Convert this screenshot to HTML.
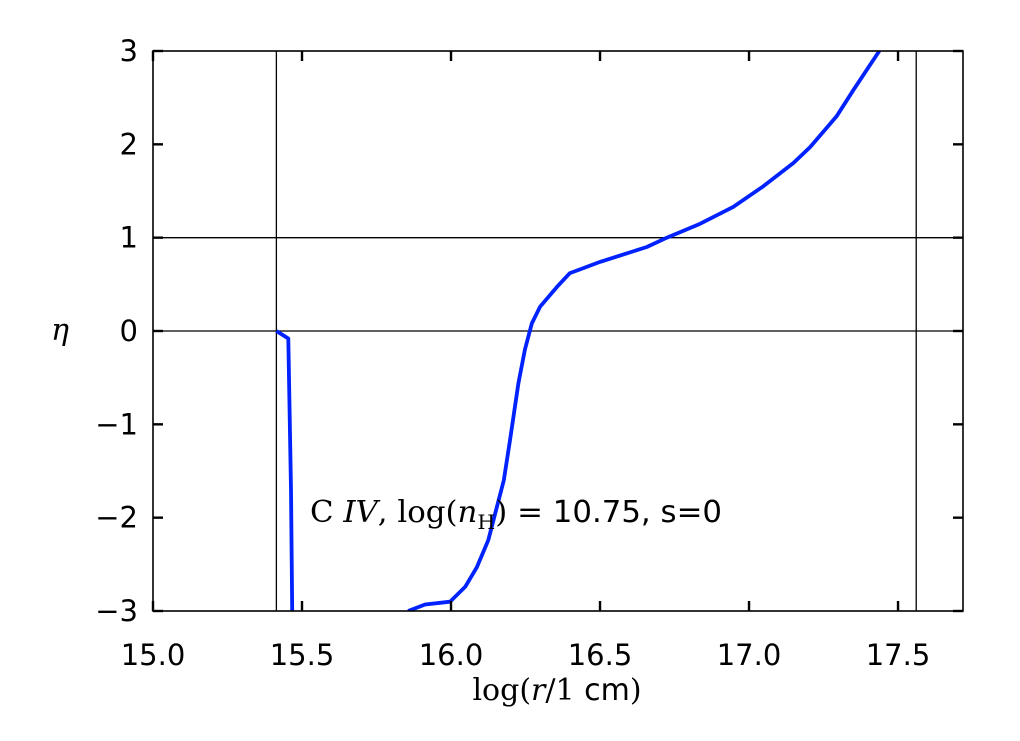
<!DOCTYPE html>
<html><head><meta charset="utf-8"><style>
body{margin:0;background:#fff}
svg text{font-family:"DejaVu Sans","Liberation Sans",sans-serif}
.serif{font-family:"DejaVu Serif","Liberation Serif",serif}
</style></head><body>
<svg id="chart" width="1020" height="736" viewBox="0 0 1020 736" xmlns="http://www.w3.org/2000/svg">
<defs><clipPath id="clip"><rect x="153" y="51" width="810" height="560"/></clipPath></defs>
<g id="grid"></g>
<g id="series" clip-path="url(#clip)"></g>
<rect x="153" y="51" width="810" height="560" fill="none" stroke="#000" stroke-width="1.6"/>
<g id="ticks"></g>
<text x="310" y="522" font-size="30" textLength="412" lengthAdjust="spacingAndGlyphs"><tspan class="serif">C </tspan><tspan class="serif" font-style="italic">IV</tspan><tspan class="serif">, log(</tspan><tspan class="serif" font-style="italic">n</tspan><tspan class="serif" font-size="20" dy="7">H</tspan><tspan class="serif" dy="-7">) = </tspan><tspan>10.75, s=0</tspan></text>
<text x="557" y="700" font-size="30" text-anchor="middle"><tspan class="serif">log(</tspan><tspan class="serif" font-style="italic">r</tspan><tspan class="serif">/1 </tspan><tspan>cm</tspan><tspan class="serif">)</tspan></text>
<text x="60" y="340" font-size="30" class="serif" font-style="italic" text-anchor="middle">η</text>
</svg>
<script>
const xTicks=[15.0,15.5,16.0,16.5,17.0,17.5];
const xTickLabels=["15.0","15.5","16.0","16.5","17.0","17.5"];
const yTicks=[-3,-2,-1,0,1,2,3];
const yTickLabels=["\u22123","\u22122","\u22121","0","1","2","3"];
const vLines=[15.414,17.561];
const hLines=[0,1];
const seg1X=[15.414,15.454,15.463,15.467];
const seg1Y=[0,-0.08,-1.70,-3.0];
const seg2X=[15.856,15.913,15.997,16.048,16.087,16.125,16.177,16.198,16.226,16.248,16.271,16.299,16.355,16.399,16.433,16.5,16.657,16.724,16.836,16.947,17.048,17.149,17.205,17.294,17.350,17.437];
const seg2Y=[-3.0,-2.93,-2.90,-2.74,-2.53,-2.24,-1.60,-1.17,-0.56,-0.20,0.08,0.26,0.47,0.62,0.66,0.74,0.90,1.0,1.15,1.33,1.55,1.80,1.97,2.30,2.58,3.0];
const X0=153,X1=963,Y0=611,Y1=51,xmin=15,xmax=17.718,ymin=-3,ymax=3;
const sx=v=>X0+(v-xmin)/(xmax-xmin)*(X1-X0);
const sy=v=>Y0-(v-ymin)/(ymax-ymin)*(Y0-Y1);
const NS="http://www.w3.org/2000/svg";
function mk(tag,attrs,parent){const e=document.createElementNS(NS,tag);for(const k in attrs)e.setAttribute(k,attrs[k]);parent.appendChild(e);return e;}
const grid=document.getElementById('grid'),ticks=document.getElementById('ticks'),series=document.getElementById('series');
vLines.forEach(v=>{const l=mk('line',{x1:sx(v),x2:sx(v),y1:Y1,y2:Y0,stroke:'#000','stroke-width':1.3},grid);

});
hLines.forEach(v=>{const l=mk('line',{x1:X0,x2:X1,y1:sy(v),y2:sy(v),stroke:'#000','stroke-width':1.3},grid);

});
xTicks.forEach((v,i)=>{const x=sx(v);
const a=mk('line',{x1:x,x2:x,y1:Y0,y2:Y0-10,stroke:'#000','stroke-width':2.4},ticks);


const b=mk('line',{x1:x,x2:x,y1:Y1,y2:Y1+10,stroke:'#000','stroke-width':2.4},ticks);


const t=mk('text',{x:x,y:665,'font-size':29,'text-anchor':'middle'},ticks);t.textContent=xTickLabels[i];

});
yTicks.forEach((v,i)=>{const y=sy(v);
const a=mk('line',{x1:X0,x2:X0+10,y1:y,y2:y,stroke:'#000','stroke-width':2.4},ticks);


const b=mk('line',{x1:X1,x2:X1-10,y1:y,y2:y,stroke:'#000','stroke-width':2.4},ticks);


const t=mk('text',{x:138,y:y+10,'font-size':29,'text-anchor':'end'},ticks);t.textContent=yTickLabels[i];

});
[[seg1X,seg1Y],[seg2X,seg2Y]].forEach(([xs,ys],k)=>{
const d=xs.map((v,i)=>(i?'L':'M')+sx(v).toFixed(1)+','+sy(ys[i]).toFixed(1)).join(' ');
const p=mk('path',{d:d,fill:'none',stroke:'#0022ff','stroke-width':3.8,'stroke-linejoin':'round'},series);

});
</script>
</body></html>
